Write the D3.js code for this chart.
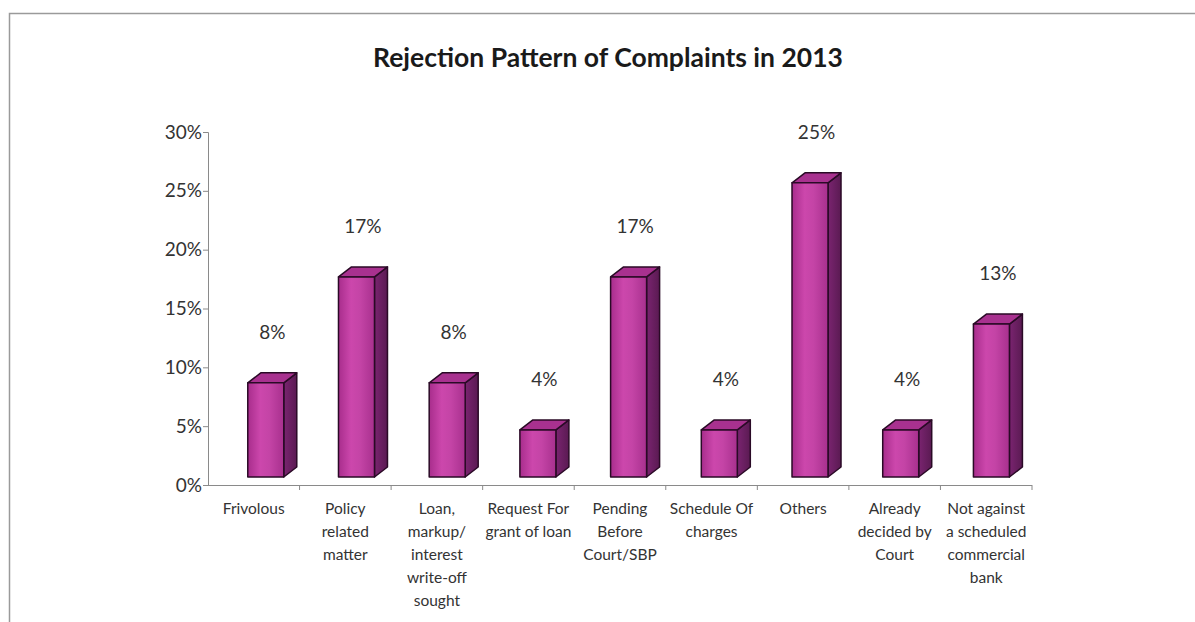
<!DOCTYPE html>
<html>
<head>
<meta charset="utf-8">
<script src="https://cdn.jsdelivr.net/npm/d3@7"></script>
<style>
  html, body { margin: 0; padding: 0; background: #fff; }
  svg { display: block; }
  text { font-family: Lato, "Open Sans", sans-serif; }
</style>
</head>
<body>
<svg id="chart" width="1195" height="622"></svg>
<script>
// Chart data
const categories = [
  ["Frivolous"],
  ["Policy", "related", "matter"],
  ["Loan,", "markup/", "interest", "write-off", "sought"],
  ["Request For", "grant of loan"],
  ["Pending", "Before", "Court/SBP"],
  ["Schedule Of", "charges"],
  ["Others"],
  ["Already", "decided by", "Court"],
  ["Not against", "a scheduled", "commercial", "bank"]
];
const values = [0.08, 0.17, 0.08, 0.04, 0.17, 0.04, 0.25, 0.04, 0.13];
const valueLabels = ["8%", "17%", "8%", "4%", "17%", "4%", "25%", "4%", "13%"];
const yTicks = [0, 0.05, 0.10, 0.15, 0.20, 0.25, 0.30];
const title = "Rejection Pattern of Complaints in 2013";

const svg = d3.select("#chart");
const keys = categories.map((c, i) => "c" + i);

// Outer frame (top and left edges)
svg.append("path")
  .attr("d", "M9.5,622 L9.5,13.5 L1195,13.5")
  .attr("fill", "none")
  .attr("stroke", "#9a9a9a")
  .attr("stroke-width", 1.5);

// Title
svg.append("text")
  .attr("x", 608).attr("y", 67)
  .attr("text-anchor", "middle")
  .attr("font-size", 26.5)
  .attr("font-weight", "bold")
  .attr("fill", "#1a1a1a")
  .text(title);

const x = d3.scaleBand().domain(keys).range([208, 1032]).padding(0);
const y = d3.scaleLinear().domain([0, 0.30]).range([485, 132]);

// Gradients for the bar faces
const defs = svg.append("defs");
const gFront = defs.append("linearGradient").attr("id", "front").attr("x1", 0).attr("x2", 1).attr("y1", 0).attr("y2", 0);
[["0%", "#a82d8c"], ["35%", "#cc47ac"], ["60%", "#c444a6"], ["100%", "#a8308e"]]
  .forEach(([o, c]) => gFront.append("stop").attr("offset", o).attr("stop-color", c));
const gSide = defs.append("linearGradient").attr("id", "side").attr("x1", 0).attr("x2", 1).attr("y1", 0).attr("y2", 0);
[["0%", "#7a2470"], ["100%", "#5a1a52"]]
  .forEach(([o, c]) => gSide.append("stop").attr("offset", o).attr("stop-color", c));

// Y axis
const yAxis = d3.axisLeft(y).tickValues(yTicks).tickFormat(d3.format(".0%")).tickSizeOuter(0).tickSize(5);
const ya = svg.append("g").attr("transform", "translate(208,0)").call(yAxis);
ya.select(".domain").attr("stroke", "#8a8a8a");
ya.selectAll(".tick line").attr("stroke", "#8a8a8a");
ya.selectAll(".tick text")
  .attr("font-size", 19)
  .attr("fill", "#333")
  .attr("x", -6)
  .attr("font-family", "Lato, sans-serif");

// X axis line with ticks at category boundaries
const xa = svg.append("g");
xa.append("line")
  .attr("x1", 208).attr("x2", 1032)
  .attr("y1", y(0) + 0.5).attr("y2", y(0) + 0.5)
  .attr("stroke", "#8a8a8a");
xa.selectAll("line.tk")
  .data(keys)
  .join("line")
  .attr("class", "tk")
  .attr("x1", d => x(d) + x.bandwidth())
  .attr("x2", d => x(d) + x.bandwidth())
  .attr("y1", y(0)).attr("y2", y(0) + 5)
  .attr("stroke", "#8a8a8a");

// Category labels
const catG = svg.append("g");
categories.forEach((lines, i) => {
  const cx = x(keys[i]) + x.bandwidth() / 2;
  const t = catG.append("text")
    .attr("text-anchor", "middle")
    .attr("font-size", 15.5)
    .attr("fill", "#333");
  lines.forEach((ln, j) => {
    t.append("tspan").attr("x", cx).attr("y", 514 + j * 23).text(ln);
  });
});

// 3D bars
const depthX = 13, depthY = 10, barW = 36, floorShift = 8;
const bars = svg.append("g");
values.forEach((v, i) => {
  const cx = x(keys[i]) + x.bandwidth() / 2;
  const x0 = cx - 6 - 0.85 * i;
  const x1 = x0 + barW;
  const yb = y(0) - floorShift;
  const yt = y(v) - floorShift;
  const g = bars.append("g").attr("stroke", "#2a0a26").attr("stroke-width", 1.5).attr("stroke-linejoin", "round");
  // side face
  g.append("path")
    .attr("d", `M${x1},${yt} L${x1 + depthX},${yt - depthY} L${x1 + depthX},${yb - depthY} L${x1},${yb} Z`)
    .attr("fill", "url(#side)");
  // top face
  g.append("path")
    .attr("d", `M${x0},${yt} L${x0 + depthX},${yt - depthY} L${x1 + depthX},${yt - depthY} L${x1},${yt} Z`)
    .attr("fill", "#a8318f");
  // front face
  g.append("rect")
    .attr("x", x0).attr("y", yt)
    .attr("width", barW).attr("height", yb - yt)
    .attr("fill", "url(#front)");
  // value label
  svg.append("text")
    .attr("x", (x0 + x1 + depthX) / 2)
    .attr("y", yt - 44)
    .attr("text-anchor", "middle")
    .attr("font-size", 19)
    .attr("fill", "#333")
    .text(valueLabels[i]);
});
</script>
</body>
</html>
